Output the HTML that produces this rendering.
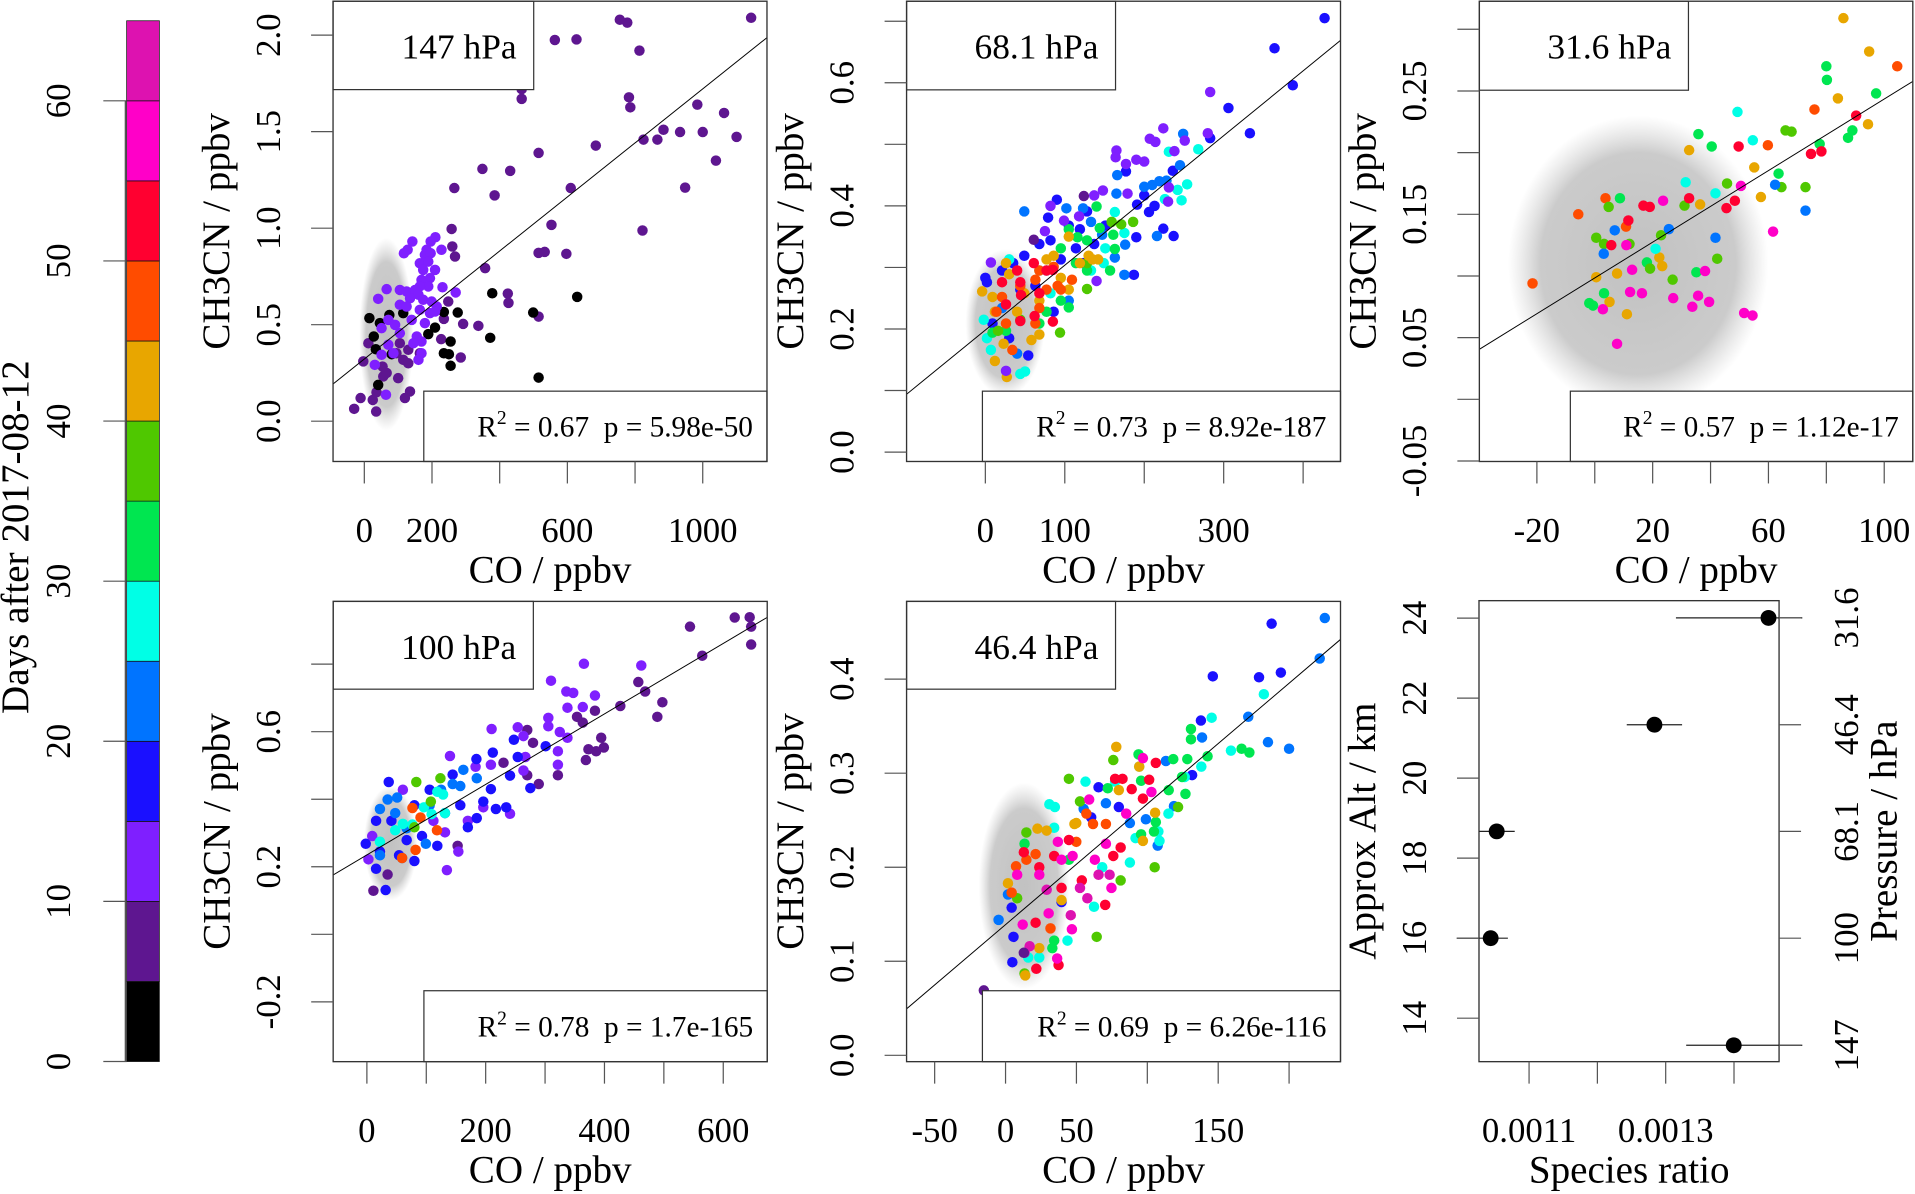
<!DOCTYPE html>
<html><head><meta charset="utf-8"><style>
html,body{margin:0;padding:0;background:#fff;}
svg{display:block;}
text{font-family:"Liberation Serif","DejaVu Serif",serif;fill:#000;}
</style></head><body>
<svg id="chart" xmlns="http://www.w3.org/2000/svg" viewBox="0 0 1568 978" width="1915" height="1194" preserveAspectRatio="none">
<defs>
<radialGradient id="cloudGrad" cx="50%" cy="50%" r="50%">
<stop offset="0%" stop-color="#bebebe" stop-opacity="0.95"/>
<stop offset="75%" stop-color="#c2c2c2" stop-opacity="0.85"/>
<stop offset="100%" stop-color="#d0d0d0" stop-opacity="0"/>
</radialGradient>
</defs>
</svg>
<script>
// ---------------- DATA ----------------
const dayBreaks = [0,5,10,15,20,25,30,35,40,45,50,55,60,65];
const dayColors = ['#000000','#5e1690','#7f1fff','#1a10ff','#0074ff','#00ffe6','#00e650','#4fc800','#e8a600','#ff4c00','#ff0030','#ff00c8','#dd12b0'];
const dayTicks = [0,10,20,30,40,50,60];

const panelTitles = ['147 hPa','68.1 hPa','31.6 hPa','100 hPa','46.4 hPa'];
const r2Values = ['0.67','0.73','0.57','0.78','0.69'];
const pValues = ['5.98e-50','8.92e-187','1.12e-17','1.7e-165','6.26e-116'];
const fitIntercepts = [0.322, 0.1983, 0.0984, 0.235, 0.139];

// species-ratio panel (ordered by pressure level)
const pressures = [147, 100, 68.1, 46.4, 31.6];
const ratios = [0.0013996, 0.0010438, 0.0010526, 0.0012835, 0.0014505];
const ratioLo = [0.00133, 0.000994, 0.001027, 0.001243, 0.001315];
const ratioHi = [0.0015, 0.001069, 0.001079, 0.001324, 0.0015];
const panelPressure = [147, 68.1, 31.6, 100, 46.4];

// background (all-data) cloud: [co centre, ch3cn centre, co half-width, ch3cn half-height]
const cloud1 = [65, 0.45, 80, 0.5];
const cloud2 = [25, 0.21, 50, 0.12];
const cloud3 = [15, 0.11, 45, 0.12];
const cloud4 = [40, 0.27, 45, 0.17];
const cloud5 = [13, 0.18, 32, 0.11];

// tick values
const p1XTicks = [0,200,400,600,800,1000]; const p1XLabels = [0,200,600,1000];
const p1YTicks = [0,0.5,1,1.5,2]; const p1YLabels = ['0.0','0.5','1.0','1.5','2.0'];
const p2XTicks = [0,100,200,300,400]; const p2XLabels = [0,100,300];
const p2YTicks = [0,0.1,0.2,0.3,0.4,0.5,0.6,0.7]; const p2YLabels = ['0.0','0.2','0.4','0.6'];
const p3XTicks = [-20,0,20,40,60,80,100]; const p3XLabels = [-20,20,60,100];
const p3YTicks = [-0.05,0,0.05,0.1,0.15,0.2,0.25,0.3]; const p3YLabels = ['-0.05','0.05','0.15','0.25'];
const p4XTicks = [0,100,200,300,400,500,600]; const p4XLabels = [0,200,400,600];
const p4YTicks = [-0.2,0,0.2,0.4,0.6,0.8]; const p4YLabels = ['-0.2','0.2','0.6'];
const p5XTicks = [-50,0,50,100,150,200]; const p5XLabels = [-50,0,50,150];
const p5YTicks = [0,0.1,0.2,0.3,0.4]; const p5YLabels = ['0.0','0.1','0.2','0.3','0.4'];
const p6XTicks = [0.0011,0.0012,0.0013,0.0014]; const p6XLabels = ['0.0011','0.0013'];
const p6AltTicks = [14,16,18,20,22,24];

// scatter points, grouped by day: [CO, CH3CN]
const p1Days = [7, 2, 12];
const p1Groups = [
[[1143,2.09],[755,2.08],[777,2.065],[563,1.975],[627,1.978],[813,1.92],[465,1.67],[465,1.72],[782,1.678],[786,1.626],[984,1.64],[1063,1.597],[884,1.51],[933,1.498],[1000,1.498],[825,1.459],[866,1.459],[1100,1.473],[684,1.428],[515,1.39],[349,1.307],[431,1.297],[266,1.208],[385,1.17],[610,1.208],[1039,1.35],[948,1.21],[553,1.017],[822,0.988],[258,0.996],[260,0.905],[268,0.853],[515,0.872],[533,0.877],[597,0.867],[357,0.793],[424,0.661],[426,0.613],[515,0.542],[337,0.494],[292,0.504],[285,0.33],[248,0.62],[235,0.53],[227,0.425],[105,0.404],[115,0.318],[-3,0.31],[12,0.404],[56,0.232],[66,0.25],[135,0.154],[120,0.12],[-11,0.12],[-30,0.064],[25,0.11],[35,0.05],[36,0.15],[95,0.352],[130,0.3],[100,0.223],[54,0.283],[164,0.352],[130,0.37]],
[[378,0.663],[629,0.644],[499,0.563],[515,0.226],[372,0.432],[276,0.563],[235,0.566],[209,0.485],[255,0.413],[235,0.352],[250,0.347],[255,0.287],[189,0.451],[15,0.534],[74,0.55],[115,0.56],[46,0.508],[28,0.439],[34,0.373],[41,0.188],[81,0.347]],
[[142,0.931],[210,0.953],[196,0.931],[128,0.888],[117,0.87],[228,0.888],[184,0.888],[179,0.862],[196,0.87],[164,0.818],[189,0.827],[174,0.784],[209,0.784],[194,0.741],[169,0.732],[189,0.698],[164,0.698],[231,0.694],[270,0.667],[66,0.684],[41,0.634],[105,0.68],[125,0.672],[150,0.68],[160,0.655],[135,0.637],[105,0.603],[125,0.594],[174,0.629],[199,0.62],[214,0.594],[164,0.577],[194,0.56],[209,0.568],[140,0.525],[179,0.508],[71,0.525],[91,0.499],[51,0.482],[105,0.456],[155,0.439],[169,0.413],[145,0.404],[169,0.352],[71,0.396],[86,0.352],[51,0.344],[31,0.292],[64,0.137],[160,0.318]]
];

const p2Days = [17, 22, 27, 32, 37, 42, 47, 52, 12, 7];
const p2Groups = [
[[427,.705],[364,.656],[387,.596],[306,.559],[333,.518],[283,.510],[177,.456],[90,.410],[79,.381],[236,.457],[200,.417],[191,.402],[206,.390],[213,.400],[224,.363],[237,.351],[190,.349],[187,.288],[128,.391],[151,.368],[105,.368],[82,.344],[68,.338],[49,.319],[0,.283],[2,.276],[9,.209],[44,.264],[95,.313],[114,.331],[119,.362],[123,.307],[137,.338],[21,.295],[35,.307],[63,.270],[86,.228],[30,.185],[54,.157]],
[[49,.391],[249,.517],[245,.466],[166,.450],[219,.440],[200,.431],[210,.434],[228,.441],[216,.351],[175,.288],[176,.337],[163,.316],[123,.396],[102,.396],[133,.374],[165,.420],[147,.353],[105,.246],[40,.160],[21,.234],[77,.295]],
[[231,.488],[268,.492],[254,.435],[242,.426],[247,.409],[226,.411],[163,.390],[175,.356],[151,.331],[149,.307],[133,.295],[-2,.215],[2,.185],[7,.166],[44,.127],[50,.131],[68,.295],[82,.258],[30,.313]],
[[105,.362],[116,.349],[128,.344],[144,.364],[161,.353],[163,.330],[157,.295],[140,.399],[95,.331],[114,.307],[128,.295],[95,.246],[77,.228],[68,.209],[26,.197],[9,.194],[105,.235]],
[[128,.265],[94,.194],[128,.307],[186,.374],[171,.370],[159,.374],[16,.197],[44,.215]],
[[-4,.261],[27,.122],[12,.148],[23,.176],[58,.182],[68,.191],[86,.319],[77,.313],[130,.319],[135,.313],[119,.307],[95,.283],[105,.264],[68,.246],[40,.228],[49,.258],[30,.289],[26,.307],[9,.252],[12,.228],[142,.313],[105,.350]],
[[34,.166],[26,.209],[63,.209],[68,.234],[91,.270],[109,.280],[95,.264],[86,.301],[68,.295],[44,.270],[21,.252],[14,.228],[63,.280],[77,.264]],
[[21,.276],[44,.276],[61,.307],[85,.296],[77,.295],[45,.255],[26,.240],[44,.213],[85,.212],[62,.221],[68,.258],[40,.295]],
[[7,.308],[82,.400],[99,.376],[75,.359],[118,.383],[137,.417],[148,.425],[165,.490],[164,.479],[177,.468],[190,.475],[200,.472],[207,.509],[214,.504],[224,.526],[238,.489],[251,.506],[283,.585],[280,.518],[231,.430],[230,.407],[140,.278],[26,.132],[179,.420]],
[[124,.416],[61,.345]]
];

const p3Days = [42, 47, 32, 37, 27, 22, 52, 57];
const p3Groups = [
[[85.9,.309],[94.8,.282],[84,.244],[94.4,.223],[32.6,.202],[55.1,.188],[57.4,.164],[36.4,.158],[22.3,.115],[23.3,.108],[7.7,.102],[0.5,.099],[5.1,.079],[11.1,.069]],
[[104.5,.270],[75.9,.235],[59.8,.206],[3.7,.163],[-5.7,.150],[10.8,.140],[-21.5,.094]],
[[80,.270],[80.2,.259],[97.2,.248],[89,.218],[87.5,.212],[77.7,.207],[35.8,.215],[40.4,.205],[63.5,.183],[8.7,.163],[18,.111],[35.1,.103],[3.2,.086],[-1.9,.078],[-0.6,.076]],
[[65.9,.218],[68,.217],[45.7,.175],[64.5,.172],[72.8,.172],[31,.157],[4.8,.156],[22.9,.133],[0.5,.131],[3.2,.126],[12,.126],[19.1,.106],[26.9,.097],[42.3,.114]],
[[49.3,.233],[54.6,.210],[31.4,.176],[41.7,.167],[21,.122]],
[[62.3,.174],[72.8,.153],[6.9,.137],[25.6,.138],[41.7,.131],[3.1,.118]],
[[49.7,.205],[74.7,.199],[78.3,.201],[90.3,.230],[48.4,.161],[45.5,.155],[32.6,.163],[16.8,.157],[19,.156],[11.6,.145],[5.7,.125]],
[[50.5,.173],[23.6,.161],[61.6,.136],[10.9,.125],[12.9,.105],[38.1,.104],[12.2,.087],[16.3,.086],[27.1,.082],[35.7,.084],[39.5,.079],[33.7,.075],[2.8,.073],[51.6,.070],[54.5,.068],[7.7,.045]]
];

const p4Days = [7, 12, 17, 22, 27, 37, 47];
const p4Groups = [
[[644.5,.939],[619.3,.938],[647,.911],[647,.858],[544,.911],[564.6,.825],[468.5,.719],[457,.747],[497.5,.687],[489,.644],[426.7,.676],[384,.662],[363.5,.627],[394.5,.582],[399,.553],[386,.542],[373,.548],[368.7,.516],[353.8,.644],[270,.605],[279.7,.567],[289.4,.445],[321.6,.471],[270,.471],[230,.508],[34.9,.177],[11,.129],[152.8,.262]],
[[365.4,.801],[462,.796],[310,.751],[335.8,.719],[347.4,.715],[384,.707],[363.5,.673],[337.7,.671],[305.5,.641],[305.5,.616],[324.8,.599],[337.7,.582],[254,.613],[263.6,.587],[210,.608],[139.9,.528],[266.9,.525],[321.6,.542],[321.6,.502],[263.6,.485],[183,.496],[208.8,.502],[196,.376],[241,.357],[134.7,.190],[154,.245],[131.5,.302],[112,.336],[170,.336],[2.6,.222],[9,.291],[60.6,.428]],
[[36.8,.451],[-1.9,.268],[15.5,.194],[31.6,.131],[241,.470],[275.2,.433],[212,.538],[184.4,.519],[247.5,.576],[254,.525],[301,.557],[208.8,.430],[217.2,.371],[234.6,.376],[185,.344],[170,.317],[144.4,.473],[105.7,.428],[80,.382],[41.3,.336],[15.5,.336],[22,.245],[54.2,.234],[80,.217],[118.6,.262],[131.5,.359],[157.3,.382],[196,.393],[67,.279],[92.8,.291]],
[[162.4,.487],[185,.462],[34.9,.399],[51,.405],[22,.371],[47.7,.359],[67,.314],[99.3,.268],[144.4,.445],[157.3,.439],[105.7,.382],[125,.428],[22,.234],[59.3,.226]],
[[118.6,.422],[128.3,.414],[96,.376],[109,.356],[131.5,.359],[47.7,.308],[60.6,.327],[22,.274],[76.7,.325]],
[[83.2,.451],[123.8,.462],[107.7,.393],[80,.317]],
[[76.7,.374],[90.3,.346],[118,.308],[82,.250],[59.3,.226]]
];

const p5Days = [22, 17, 27, 32, 37, 42, 47, 52, 57, 62, 7];
const p5Groups = [
[[225.2,.465],[221.6,.422],[171.2,.360],[185.1,.333],[200,.326],[138.6,.338],[113.1,.313],[99,.251],[87.7,.247],[70.8,.268],[55.1,.262],[-4.9,.144],[1.7,.171],[107.3,.223],[118.8,.265]],
[[187.7,.459],[178.8,.402],[194.2,.407],[146.2,.403],[137.8,.356],[131.6,.298],[65.6,.285],[79.9,.264],[60.4,.253],[4.8,.099],[4.3,.157],[5.6,.126],[39.5,.163]],
[[182.2,.384],[145.4,.359],[159,.324],[138.1,.307],[126.4,.296],[114.9,.257],[107.8,.238],[108.6,.228],[91.7,.231],[87.7,.205],[77.3,.291],[56.4,.291],[30.9,.267],[34.8,.264],[34.3,.242],[62.4,.158],[43.7,.122],[16,.104],[23.8,.104],[68.2,.200],[94.3,.307]],
[[130.8,.347],[130.8,.336],[166.5,.326],[172,.322],[142.5,.318],[128.2,.315],[118.3,.315],[124.5,.296],[126.9,.278],[95.6,.292],[93.8,.320],[115.1,.282],[72.1,.284],[106,.248],[104.7,.238],[95.6,.235],[33,.114],[34.3,.122],[13.4,.225],[44.7,.208]],
[[44.7,.294],[76,.314],[52.5,.270],[64.3,.126],[105.2,.200],[121.7,.264],[14.7,.237],[13.4,.087],[81.2,.186],[8.2,.167]],
[[78.1,.328],[94.3,.307],[79.9,.282],[105.5,.258],[48.6,.246],[49.9,.247],[29,.239],[22.5,.241],[96.9,.228],[1.7,.183],[13.9,.085],[23.8,.114],[39.5,.165]],
[[57,.257],[61.7,.246],[70.8,.246],[7.4,.201],[21.2,.214],[14.7,.208],[4.3,.173],[49.9,.227],[31.7,.135]],
[[106,.311],[77.3,.294],[82.5,.294],[89,.283],[101.3,.293],[96.9,.273],[70.3,.160],[21.7,.092],[37.4,.096],[12.9,.216],[23.8,.200],[34.3,.212],[44.7,.229],[53.8,.186],[39.5,.178],[21.2,.141],[76,.212],[81.2,.221]],
[[96.9,.316],[102.9,.280],[59,.272],[85.1,.257],[36.9,.227],[47.3,.212],[70.8,.225],[74.7,.178],[12.1,.139],[30.4,.151],[46.8,.134],[36.4,.103],[8.2,.192],[23.8,.192],[39.5,.208],[63,.208]],
[[13.4,.109],[17,.116],[46,.149],[73.4,.192],[65.6,.192],[52.5,.178],[57.7,.167],[29,.176]],
[[-15.3,.069],[12.9,.109]]
];

// ---------------- RENDERING ----------------
const NS = 'http://www.w3.org/2000/svg';
const svg = document.getElementById('chart');
function mk(tag, attrs, parent) {
  const e = document.createElementNS(NS, tag);
  for (const k in attrs) e.setAttribute(k, attrs[k]);
  (parent || svg).appendChild(e);
  return e;
}
function lin(a) { const k = (a[3]-a[1])/(a[2]-a[0]); return v => a[1] + (v - a[0]) * k; }
function colorFor(day) {
  let i = Math.floor(day / 5);
  if (i < 0) i = 0; if (i > dayColors.length - 1) i = dayColors.length - 1;
  return dayColors[i];
}
function altOf(p) { return 16 * Math.log10(1000 / p); }

const layouts = [
  {L:272.7,R:628,T:1,B:378, xs:[0,298.3,1000,575.4], ys:[0,345,2,28.8], titleR:437, titleB:73.4, statL:347, statT:320.4},
  {L:742.3,R:1097.6,T:1,B:378, xs:[0,806.8,400,1067], ys:[0,370.3,0.6,67.8], titleR:913.4, titleB:73.6, statL:804.4, statT:320.4},
  {L:1211.3,R:1566.2,T:1,B:378, xs:[-20,1258.4,100,1542.8], ys:[-0.05,377.6,0.25,74.5], titleR:1382.5, titleB:73.9, statL:1285.8, statT:320.4},
  {L:272.8,R:628.2,T:492.6,B:869.6, xs:[0,300.4,600,592.2], ys:[-0.2,820.6,0.8,544], titleR:436.7, titleB:564.5, statL:347.1, statT:811.5},
  {L:742.3,R:1097.6,T:492.6,B:869.6, xs:[-50,765.3,200,1055.5], ys:[0,864.4,0.4,556.3], titleR:913.4, titleB:564.5, statL:804.4, statT:811.5}
];
const allGroups = [p1Groups, p2Groups, p3Groups, p4Groups, p5Groups];
const allDays = [p1Days, p2Days, p3Days, p4Days, p5Days];
const allClouds = [cloud1, cloud2, cloud3, cloud4, cloud5];
const allXT = [p1XTicks, p2XTicks, p3XTicks, p4XTicks, p5XTicks];
const allXL = [p1XLabels, p2XLabels, p3XLabels, p4XLabels, p5XLabels];
const allYT = [p1YTicks, p2YTicks, p3YTicks, p4YTicks, p5YTicks];
const allYL = [p1YLabels, p2YLabels, p3YLabels, p4YLabels, p5YLabels];
const TICK = 18;

function xAxis(g, sx, B, ticks, labels, title, titleX) {
  ticks.forEach(t => {
    const tk = mk('line', {x1:sx(t), x2:sx(t), y1:B, y2:B+TICK, stroke:'#555', 'stroke-width':1}, g);
    
    
  });
  labels.forEach(l => {
    const v = parseFloat(l);
    const tx = mk('text', {x:sx(v), y:B+66, 'text-anchor':'middle', 'font-size':28.5}, g);
    
    
    tx.textContent = String(l);
  });
  const at = mk('text', {x:titleX, y:B+99, 'text-anchor':'middle', 'font-size':32}, g);
  
  
  at.textContent = title;
}
function yAxisLeft(g, sy, L, ticks, labels, title, titleY) {
  ticks.forEach(t => {
    const tk = mk('line', {x1:L-TICK, x2:L, y1:sy(t), y2:sy(t), stroke:'#555', 'stroke-width':1}, g);
    
    
  });
  labels.forEach(l => {
    const v = parseFloat(l);
    const y = sy(v), x = L - 43.5;
    const tx = mk('text', {x:x, y:y, 'text-anchor':'middle', 'font-size':28.5, transform:`rotate(-90 ${x} ${y})`}, g);
    
    
    tx.textContent = String(l);
  });
  const x = L - 85;
  const at = mk('text', {x:x, y:titleY, 'text-anchor':'middle', 'font-size':32, transform:`rotate(-90 ${x} ${titleY})`}, g);
  
  
  at.textContent = title;
}

layouts.forEach((lay, i) => {
  const sx = lin(lay.xs), sy = lin(lay.ys);
  const g = mk('g', {});
  
  
  const clip = mk('clipPath', {id:'clip'+i}, g);
  mk('rect', {x:lay.L, y:lay.T, width:lay.R-lay.L, height:lay.B-lay.T}, clip);
  const inner = mk('g', {'clip-path':`url(#clip${i})`}, g);
  
  

  const c = allClouds[i];
  const cl = mk('ellipse', {cx:sx(c[0]), cy:sy(c[1]), rx:Math.abs(sx(c[0]+c[2])-sx(c[0])), ry:Math.abs(sy(c[1]+c[3])-sy(c[1])), fill:'url(#cloudGrad)'}, inner);
  
  

  allGroups[i].forEach((grp, gi) => {
    const col = colorFor(allDays[i][gi]);
    grp.forEach(p => {
      const pt = mk('circle', {cx:sx(p[0]), cy:sy(p[1]), r:4.3, fill:col}, inner);
      
      
    });
  });

  const slope = ratios[pressures.indexOf(panelPressure[i])];
  const kx = (lay.xs[3]-lay.xs[1])/(lay.xs[2]-lay.xs[0]);
  const x0 = lay.xs[0] + (lay.L-lay.xs[1])/kx;
  const x1 = lay.xs[0] + (lay.R-lay.xs[1])/kx;
  const fl = mk('line', {x1:sx(x0), y1:sy(fitIntercepts[i]+slope*x0), x2:sx(x1), y2:sy(fitIntercepts[i]+slope*x1), stroke:'#000', 'stroke-width':0.8}, inner);
  
  

  const tb = mk('rect', {x:lay.L, y:lay.T, width:lay.titleR-lay.L, height:lay.titleB-lay.T, fill:'#fff', stroke:'#333', 'stroke-width':1}, g);
  
  
  const tt = mk('text', {x:lay.titleR-14, y:lay.T+47, 'text-anchor':'end', 'font-size':29}, g);
  
  
  tt.textContent = panelTitles[i];

  const sb = mk('rect', {x:lay.statL, y:lay.statT, width:lay.R-lay.statL, height:lay.B-lay.statT, fill:'#fff', stroke:'#333', 'stroke-width':1}, g);
  
  
  const st = mk('text', {x:lay.R-11.5, y:lay.B-20.5, 'text-anchor':'end', 'font-size':24, style:'white-space:pre'}, g);
  
  
  const t1 = mk('tspan', {}, st); t1.textContent = 'R';
  const t2 = mk('tspan', {'font-size':16, dy:-10}, st); t2.textContent = '2';
  const t3 = mk('tspan', {dy:10}, st); t3.textContent = ' = ' + r2Values[i] + '  p = ' + pValues[i];

  const fr = mk('rect', {x:lay.L, y:lay.T, width:lay.R-lay.L, height:lay.B-lay.T, fill:'none', stroke:'#333', 'stroke-width':1.1}, g);
  
  

  xAxis(g, sx, lay.B, allXT[i], allXL[i], 'CO / ppbv', (lay.L+lay.R)/2);
  yAxisLeft(g, sy, lay.L, allYT[i], allYL[i], 'CH3CN / ppbv', (lay.T+lay.B)/2);
});

// ---------------- species ratio panel ----------------
(function(){
  const L=1211, R=1456.7, T=492, B=869.6;
  const sx = lin([0.0011,1252,0.0014,1419.8]);
  const sy = lin([14,834,24,506.3]);
  const g = mk('g', {});
  
  
  const fr = mk('rect', {x:L, y:T, width:R-L, height:B-T, fill:'none', stroke:'#333', 'stroke-width':1.1}, g);
  
  
  pressures.forEach((p, i) => {
    const y = sy(altOf(p));
    const eb = mk('line', {x1:sx(ratioLo[i]), x2:sx(ratioHi[i]), y1:y, y2:y, stroke:'#222', 'stroke-width':1}, g);
    
    
    const pt = mk('circle', {cx:sx(ratios[i]), cy:y, r:6.5, fill:'#000'}, g);
    
    
  });
  xAxis(g, sx, B, p6XTicks, p6XLabels, 'Species ratio', 1334);
  yAxisLeft(g, sy, L, p6AltTicks, p6AltTicks.map(String), 'Approx Alt / km', (T+B)/2);
  pressures.forEach(p => {
    const y = sy(altOf(p));
    const tk = mk('line', {x1:R, x2:R+TICK, y1:y, y2:y, stroke:'#555', 'stroke-width':1}, g);
    
    
    const x = R + 64.5;
    const tx = mk('text', {x:x, y:y, 'text-anchor':'middle', 'font-size':28.5, transform:`rotate(-90 ${x} ${y})`}, g);
    
    
    tx.textContent = String(p);
  });
  const px = R + 96, py = (T+B)/2;
  const pt = mk('text', {x:px, y:py, 'text-anchor':'middle', 'font-size':32, transform:`rotate(-90 ${px} ${py})`}, g);
  
  
  pt.textContent = 'Pressure / hPa';
})();

// ---------------- colour bar ----------------
(function(){
  const x0 = 103.7, x1 = 130.5;
  const sy = lin([0,869.5,65,17]);
  const g = mk('g', {});
  
  
  for (let i = 0; i < dayColors.length; i++) {
    const r = mk('rect', {x:x0, y:sy(dayBreaks[i+1]), width:x1-x0, height:sy(dayBreaks[i])-sy(dayBreaks[i+1]), fill:dayColors[i], stroke:'#111', 'stroke-width':0.6}, g);
    
    
  }
  const al = mk('line', {x1:x0-1, x2:x0-1, y1:sy(dayTicks[0]), y2:sy(dayTicks[dayTicks.length-1]), stroke:'#555', 'stroke-width':1.2}, g);
  
  
  dayTicks.forEach(t => {
    const y = sy(t);
    const tk = mk('line', {x1:84.6, x2:x0, y1:y, y2:y, stroke:'#555', 'stroke-width':1}, g);
    
    
    const x = 57.5;
    const tx = mk('text', {x:x, y:y, 'text-anchor':'middle', 'font-size':28.5, transform:`rotate(-90 ${x} ${y})`}, g);
    
    
    tx.textContent = String(t);
  });
  const tx = 23, ty = 440;
  const tt = mk('text', {x:tx, y:ty, 'text-anchor':'middle', 'font-size':32, transform:`rotate(-90 ${tx} ${ty})`}, g);
  
  
  tt.textContent = 'Days after 2017-08-12';
})();
</script>
</body></html>
